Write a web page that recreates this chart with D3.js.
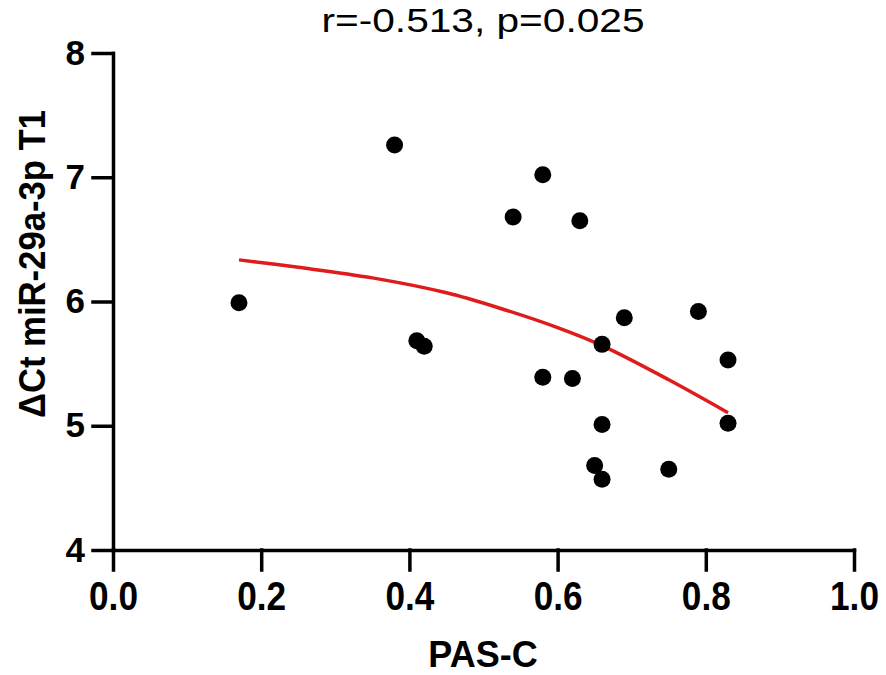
<!DOCTYPE html>
<html>

<head>
    <script type="text/javascript" src="https://cdnjs.cloudflare.com/ajax/libs/d3/7.8.5/d3.min.js"></script>
    <style>
        body {
            margin: 0;
            background: white;
        }

        svg text {
            font-family: "Liberation Sans", Arial, sans-serif;
            fill: black;
        }

        .axis path,
        .axis line {
            stroke: black;
            stroke-width: 3.5px;
        }

        .axis text {
            font-weight: bold;
        }
    </style>
</head>

<body>
    <script>
        // scatter points
        var pasC = [0.17, 0.38, 0.41, 0.42, 0.54, 0.58, 0.58, 0.62, 0.63, 0.66, 0.66, 0.65, 0.66, 0.69, 0.75, 0.79, 0.83, 0.83];
        var deltaCt = [5.99, 7.26, 5.685, 5.64, 6.68, 7.02, 5.39, 5.38, 6.65, 5.655, 5.01, 4.68, 4.57, 5.87, 4.65, 5.92, 5.53, 5.02];

        // fitted curve
        var fitX = [0.17, 0.25, 0.35, 0.45, 0.52, 0.60, 0.66, 0.75, 0.83];
        var fitY = [6.335, 6.275, 6.19, 6.07, 5.95, 5.79, 5.645, 5.37, 5.105];

        var xTicks = [0.0, 0.2, 0.4, 0.6, 0.8, 1.0];
        var yTicks = [4, 5, 6, 7, 8];

        var width = 886,
            height = 675;

        var x = d3.scaleLinear()
            .domain([0, 1])
            .range([113, 854]);

        var y = d3.scaleLinear()
            .domain([4, 8])
            .range([550, 53]);

        var svg = d3.select('body')
            .append('svg')
            .attr('width', width)
            .attr('height', height);

        // x axis
        var xAxis = svg.append('g')
            .attr('class', 'axis')
            .attr('transform', 'translate(0,' + y(4) + ')')
            .call(d3.axisBottom(x)
                .tickValues(xTicks)
                .tickFormat(d3.format('.1f'))
                .tickSize(20)
                .tickSizeOuter(0)
                .tickPadding(12));

        xAxis.selectAll('text')
            .style('font-size', '40px')
            .attr('transform', 'scale(0.88,1)');

        // y axis
        var yAxis = svg.append('g')
            .attr('class', 'axis')
            .attr('transform', 'translate(' + x(0) + ',0)')
            .call(d3.axisLeft(y)
                .tickValues(yTicks)
                .tickFormat(d3.format('d'))
                .tickSize(20)
                .tickSizeOuter(0)
                .tickPadding(8));

        yAxis.selectAll('text')
            .style('font-size', '35px');

        yAxis.selectAll('path, line').attr('stroke-linecap', 'square');
        xAxis.selectAll('path, line').attr('stroke-linecap', 'square');

        // fitted curve
        var line = d3.line()
            .x(function(d, i) { return x(fitX[i]); })
            .y(function(d, i) { return y(fitY[i]); })
            .curve(d3.curveCatmullRom);

        svg.append('path')
            .datum(fitX)
            .attr('d', line)
            .attr('fill', 'none')
            .attr('stroke', '#e01b1b')
            .attr('stroke-width', 3.5);

        // points
        svg.selectAll('circle')
            .data(pasC)
            .enter()
            .append('circle')
            .attr('cx', function(d) { return x(d); })
            .attr('cy', function(d, i) { return y(deltaCt[i]); })
            .attr('r', 8.5)
            .attr('fill', 'black');

        // title
        svg.append('text')
            .attr('x', 483)
            .attr('y', 32)
            .attr('text-anchor', 'middle')
            .attr('textLength', 323)
            .attr('lengthAdjust', 'spacingAndGlyphs')
            .style('font-size', '34px')
            .text('r=-0.513, p=0.025');

        // axis titles
        svg.append('text')
            .attr('x', 483)
            .attr('y', 667)
            .attr('text-anchor', 'middle')
            .style('font-size', '36px')
            .style('font-weight', 'bold')
            .text('PAS-C');

        svg.append('text')
            .attr('transform', 'translate(45,264) rotate(-90)')
            .attr('text-anchor', 'middle')
            .attr('textLength', 308)
            .attr('lengthAdjust', 'spacingAndGlyphs')
            .style('font-size', '37px')
            .style('font-weight', 'bold')
            .text('ΔCt miR-29a-3p T1');

    </script>
</body>

</html>
